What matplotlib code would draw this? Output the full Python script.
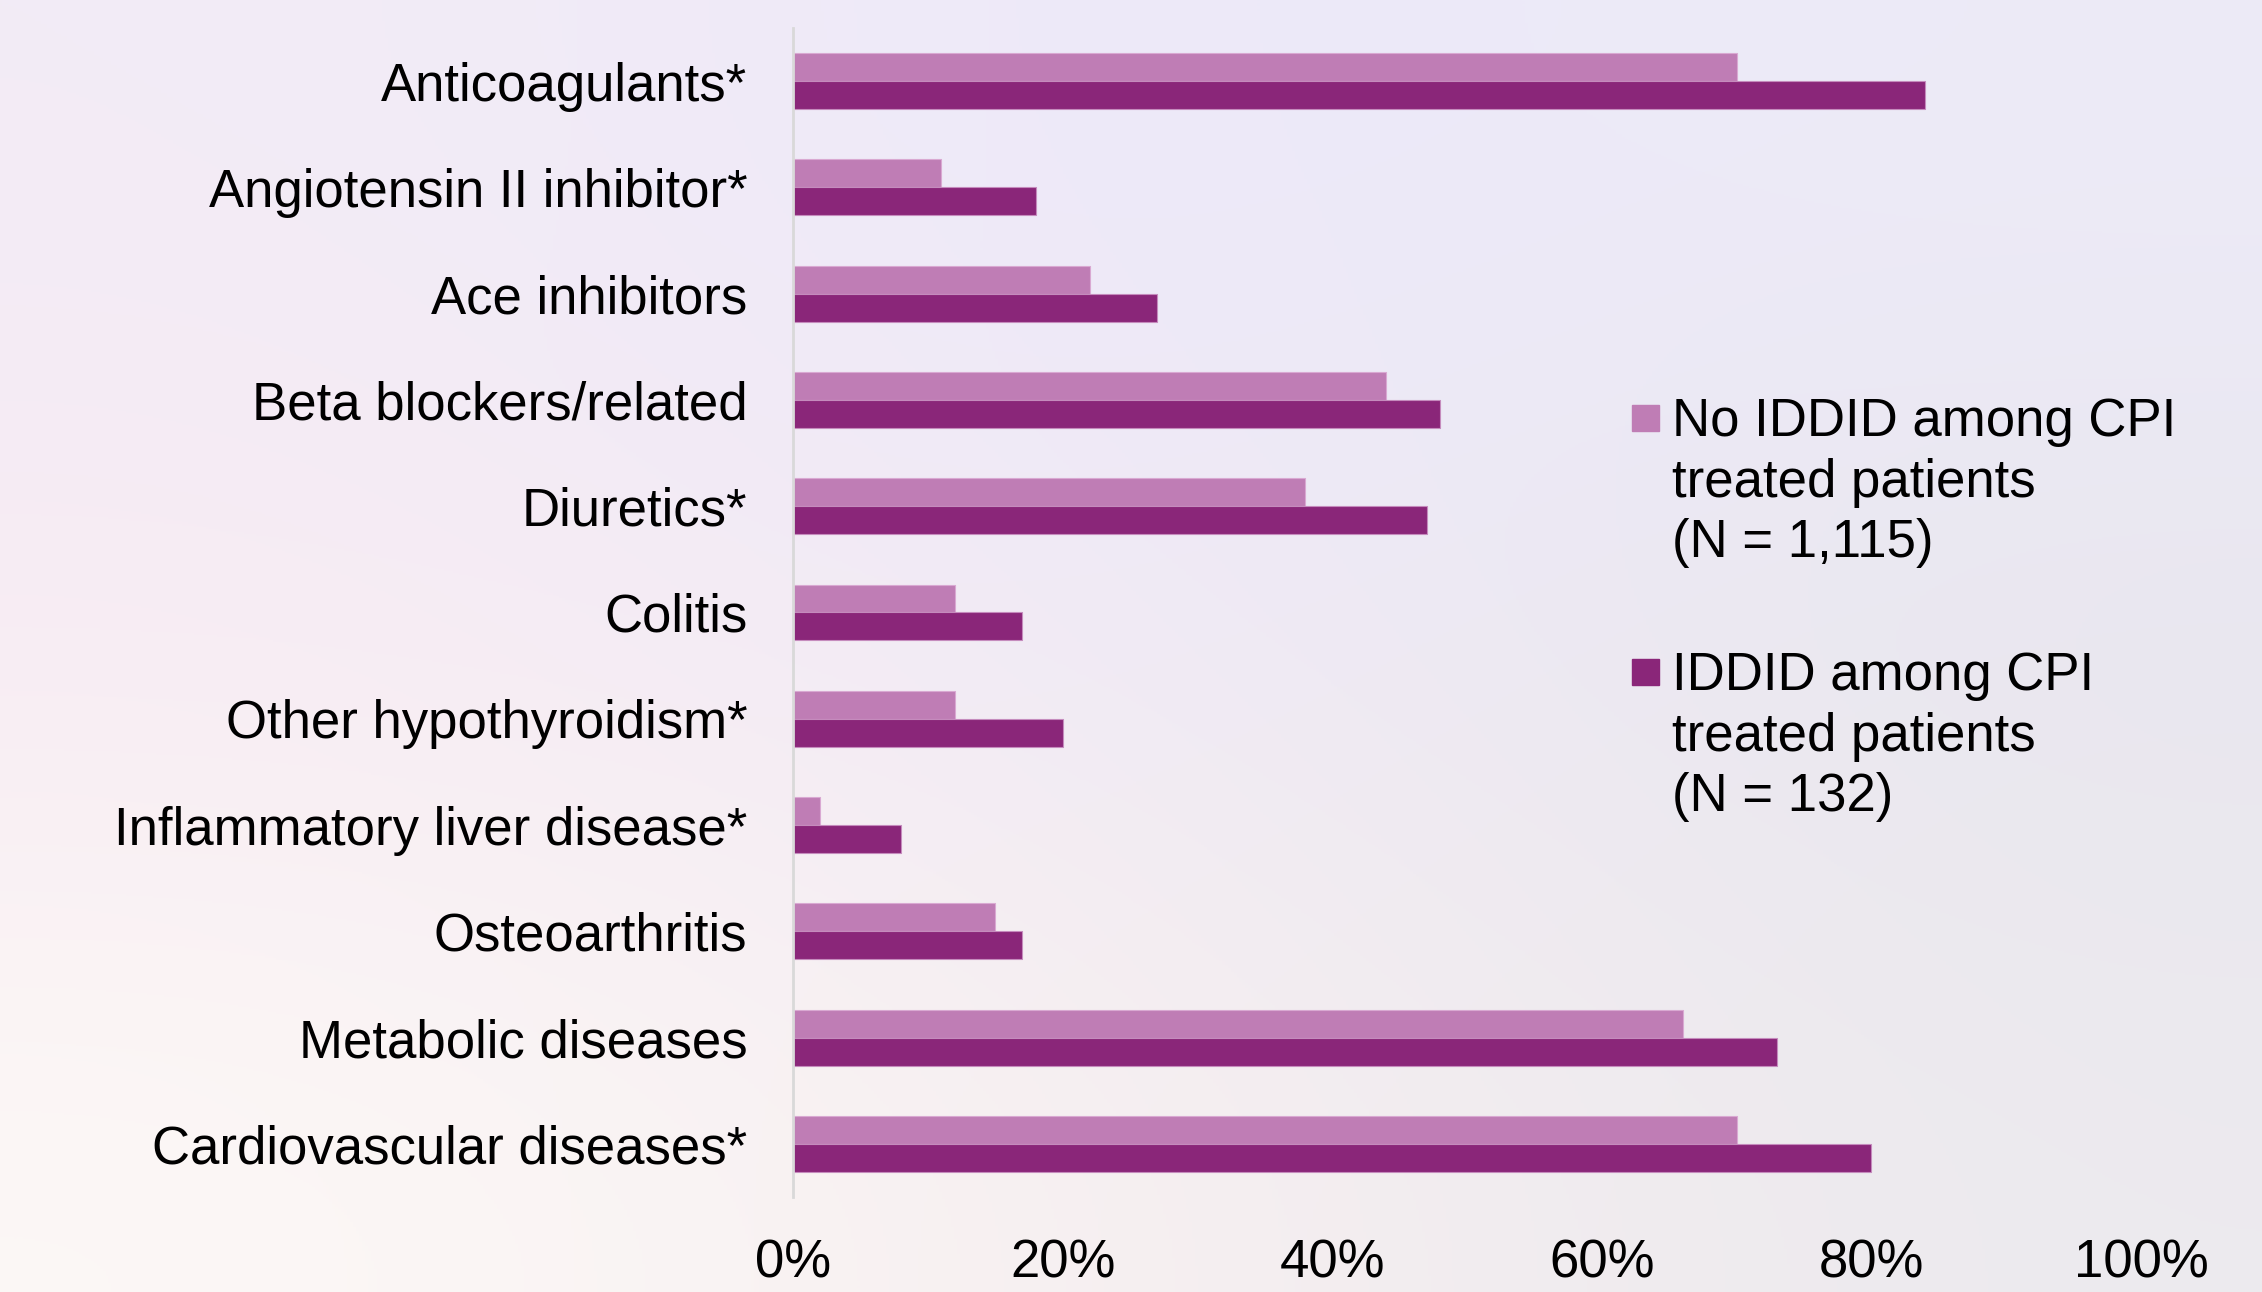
import matplotlib
matplotlib.use("Agg")
import matplotlib.pyplot as plt
import numpy as np
from matplotlib.patches import Rectangle

plt.rcParams["font.family"] = ["Liberation Sans", "DejaVu Sans"]

# --- data -------------------------------------------------------------------
categories = ["Anticoagulants*", "Angiotensin II inhibitor*", "Ace inhibitors",
              "Beta blockers/related", "Diuretics*", "Colitis",
              "Other hypothyroidism*", "Inflammatory liver disease*",
              "Osteoarthritis", "Metabolic diseases", "Cardiovascular diseases*"]
no_iddid = [70, 11, 22, 44, 38, 12, 12, 2, 15, 66, 70]
iddid = [84, 18, 27, 48, 47, 17, 20, 8, 17, 73, 80]
series_labels = ["No IDDID among CPI\ntreated patients\n(N = 1,115)",
                 "IDDID among CPI\ntreated patients\n(N = 132)"]
series_colors = ["#bf7db5", "#8a2679"]
xticks = [0, 20, 40, 60, 80, 100]

W, H = 2262, 1292
fig = plt.figure(figsize=(W / 100, H / 100), dpi=100)

# soft slide-style background gradient
bg = fig.add_axes([0, 0, 1, 1], zorder=-10)
grid = np.array([
    [[243, 236, 246], [236, 233, 250], [237, 235, 247]],
    [[248, 235, 242], [240, 234, 246], [232, 230, 238]],
    [[252, 248, 246], [247, 239, 240], [236, 234, 238]],
]) / 255.0
bg.imshow(grid, extent=[0, 1, 0, 1], aspect="auto", interpolation="bicubic")
bg.set_axis_off()

ax = fig.add_axes([793 / W, 1 - 1197 / H, (2141 - 793) / W, (1197 - 28) / H])
ax.patch.set_alpha(0)

y = np.arange(len(categories))
h = 0.263
ax.barh(y - h / 2, no_iddid, height=h, color=series_colors[0],
        edgecolor="#d9a9d2", linewidth=0.8)
ax.barh(y + h / 2, iddid, height=h, color=series_colors[1],
        edgecolor="#c58bbd", linewidth=0.8)

ax.set_ylim(len(categories) - 0.5, -0.5)
ax.set_xlim(0, 100)
ax.set_yticks(y)
ax.set_yticklabels(categories, fontsize=38)
ax.set_xticks(xticks)
ax.set_xticklabels([f"{v}%" for v in xticks], fontsize=38)
ax.tick_params(axis="y", length=0, pad=33)
ax.tick_params(axis="x", length=0, pad=30)
for s in ["top", "right", "bottom"]:
    ax.spines[s].set_visible(False)
ax.spines["left"].set_color("#d9d9d9")
ax.spines["left"].set_linewidth(2)

# legend drawn by hand so the square sits on the first text line
legend_top = [405, 659]
for top, lbl, col in zip(legend_top, series_labels, series_colors):
    fig.add_artist(Rectangle((1632 / W, 1 - (top + 26) / H), 27 / W, 26 / H,
                             transform=fig.transFigure, color=col))
    fig.text(1672 / W, 1 - (top - 8) / H, lbl, fontsize=38, va="top",
             ha="left", linespacing=1.27)

fig.savefig("out.png", dpi=100)
